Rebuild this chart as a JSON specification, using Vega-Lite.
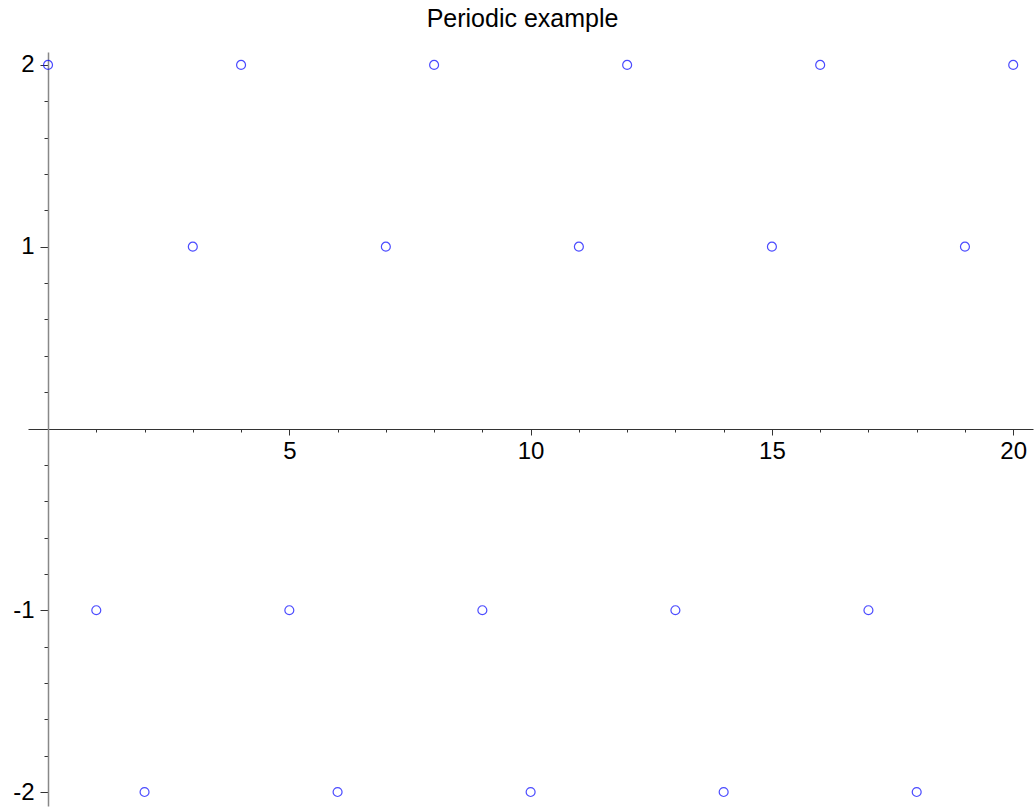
{
  "$schema": "https://vega.github.io/schema/vega-lite/v6.json",
  "width": 1005,
  "height": 754,
  "autosize": {"type": "none"},
  "padding": {"left": 28, "top": 52, "right": 3, "bottom": 3},
  "background": "white",
  "config": {"view": {"stroke": null}},
  "title": {
    "text": "Periodic example",
    "font": "Liberation Sans",
    "fontSize": 25,
    "fontWeight": "normal",
    "color": "black",
    "anchor": "middle",
    "dx": -8,
    "offset": 20
  },
  "data": {
    "values": [
      {"n": 0, "v": 2}, {"n": 1, "v": -1}, {"n": 2, "v": -2}, {"n": 3, "v": 1},
      {"n": 4, "v": 2}, {"n": 5, "v": -1}, {"n": 6, "v": -2}, {"n": 7, "v": 1},
      {"n": 8, "v": 2}, {"n": 9, "v": -1}, {"n": 10, "v": -2}, {"n": 11, "v": 1},
      {"n": 12, "v": 2}, {"n": 13, "v": -1}, {"n": 14, "v": -2}, {"n": 15, "v": 1},
      {"n": 16, "v": 2}, {"n": 17, "v": -1}, {"n": 18, "v": -2}, {"n": 19, "v": 1},
      {"n": 20, "v": 2}
    ]
  },
  "mark": {"type": "point", "shape": "circle", "filled": false, "color": "#0000ff", "size": 80, "strokeWidth": 1.2, "clip": false},
  "encoding": {
    "x": {
      "field": "n",
      "type": "quantitative",
      "scale": {"domain": [-0.415, 20.41], "nice": false, "zero": false},
      "axis": {
        "title": null,
        "orient": "bottom",
        "offset": -377,
        "values": [1,2,3,4,5,6,7,8,9,10,11,12,13,14,15,16,17,18,19,20],
        "labelExpr": "datum.value % 5 === 0 ? '' + datum.value : ''",
        "grid": false,
        "domainColor": "#333333",
        "domainWidth": 1,
        "tickColor": "#333333",
        "tickSize": {"expr": "datum.value % 5 === 0 ? 6 : 3"},
        "labelPadding": 4,
        "labelFont": "Liberation Sans",
        "labelFontSize": 24,
        "labelColor": "black",
        "labelFlush": false,
        "labelOverlap": false
      }
    },
    "y": {
      "field": "v",
      "type": "quantitative",
      "scale": {"domain": [-2.077, 2.071], "nice": false, "zero": false},
      "axis": {
        "title": null,
        "orient": "left",
        "offset": -20,
        "values": [-2,-1.8,-1.6,-1.4,-1.2,-1,-0.8,-0.6,-0.4,-0.2,0.2,0.4,0.6,0.8,1,1.2,1.4,1.6,1.8,2],
        "labelExpr": "datum.value % 1 === 0 ? '' + datum.value : ''",
        "grid": false,
        "domainColor": "#888888",
        "domainWidth": 1.5,
        "tickColor": "#333333",
        "tickSize": {"expr": "datum.value % 1 === 0 ? 8 : 4"},
        "labelPadding": 6,
        "labelFont": "Liberation Sans",
        "labelFontSize": 24,
        "labelColor": "black",
        "labelFlush": false,
        "labelOverlap": false
      }
    }
  }
}
